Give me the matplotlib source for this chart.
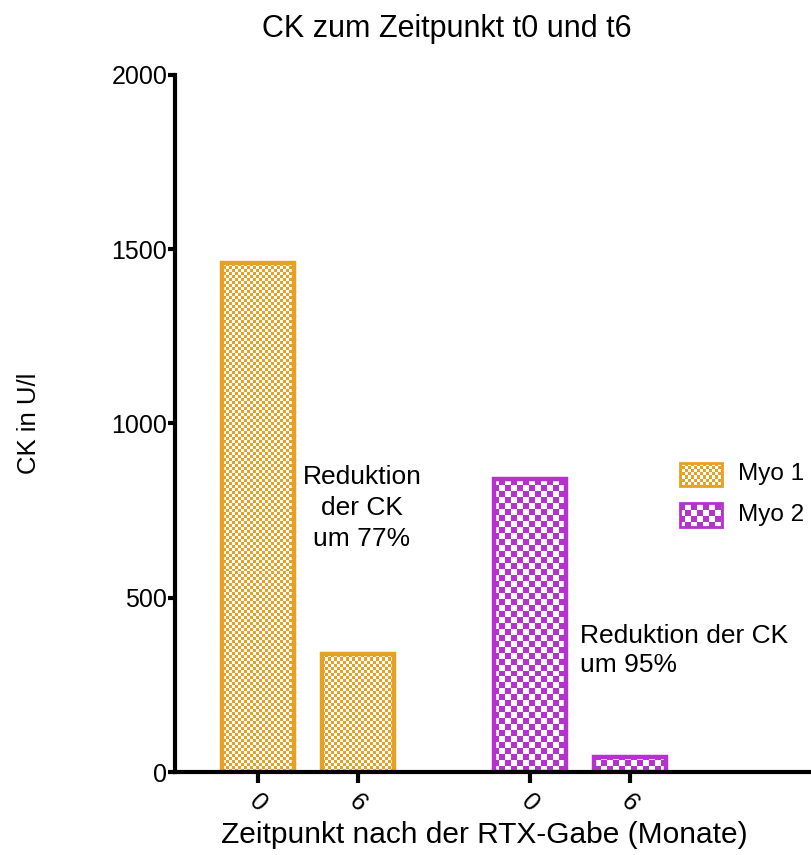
import numpy as np
import matplotlib
matplotlib.use("Agg")
import matplotlib.pyplot as plt
from matplotlib.patches import Rectangle

plt.rcParams['font.family'] = ['Liberation Sans', 'DejaVu Sans']

# Data
series = ["Myo 1", "Myo 2"]
months = ["0", "6"]
ck_myo1 = [1460, 339]
ck_myo2 = [842, 43]
reductions = ["Reduktion\nder CK\num 77%", "Reduktion der CK\num 95%"]

colors = ["#E6A024", "#B532CF"]
cell_px = [3, 6]          # checker cell size in pixels for each series
group_gap = 2.72
bar_w = 0.72

W, H, DPI = 811, 855, 100
fig = plt.figure(figsize=(W / DPI, H / DPI), dpi=DPI)
ax = fig.add_axes([175 / W, (H - 772) / H, (W - 175) / W, 697 / H])

ax_w_px, ax_h_px = W - 175, 697


def checker(color, cell):
    nx, ny = int(np.ceil(ax_w_px / cell)), int(np.ceil(ax_h_px / cell))
    yy, xx = np.mgrid[0:ny, 0:nx]
    mask = (xx + yy) % 2 == 0
    rgb = np.array(matplotlib.colors.to_rgb(color))
    img = np.ones((ny, nx, 3))
    img[mask] = rgb
    return img


def textured(patch, color, cell):
    im = ax.imshow(checker(color, cell), extent=(0, 1, 0, 1), transform=ax.transAxes,
                   interpolation="nearest", aspect="auto", zorder=1)
    im.set_clip_path(patch)


positions = []
for gi, (vals, col, cell) in enumerate(zip([ck_myo1, ck_myo2], colors, cell_px)):
    xs = np.arange(len(vals)) + gi * group_gap
    positions.extend(xs)
    bars = ax.bar(xs, vals, width=bar_w, facecolor="none", edgecolor=col,
                  linewidth=3.2, zorder=2)
    for b in bars:
        textured(b, col, cell)

ax.set_xlim(-0.83, 5.53)
ax.set_ylim(0, 2000)
ax.set_yticks([0, 500, 1000, 1500, 2000])
ax.set_xticks(positions)
ax.set_xticklabels(months * 2, rotation=-45, ha="center", va="top")

for s in ["top", "right"]:
    ax.spines[s].set_visible(False)
for s in ["left", "bottom"]:
    ax.spines[s].set_linewidth(3)
ax.spines["bottom"].set_zorder(3)
ax.tick_params(axis="y", length=5, width=3, labelsize=18, pad=0.5)
ax.tick_params(axis="x", length=8, width=3, labelsize=18, pad=5)

ax.set_ylabel("CK in U/l", fontsize=18.5, labelpad=51)
ax.set_xlabel("Zeitpunkt nach der RTX-Gabe (Monate)", fontsize=21.5)
ax.xaxis.set_label_coords(0.487, -0.0905)
ax.xaxis.label.set_va("center")
fig.text(447 / W, 1 - 29 / H, "CK zum Zeitpunkt t0 und t6", fontsize=22,
         ha="center", va="center")

ax.text(1.04, 880, reductions[0], fontsize=19, ha="center", va="top",
        linespacing=1.37, zorder=4)
ax.text(3.22, 425, reductions[1], fontsize=19, ha="left", va="top",
        linespacing=1.25, zorder=4)

# Legend with textured swatches
for i, (name, col, cell) in enumerate(zip(series, colors, cell_px)):
    y0 = 0.410 - i * 0.0585
    r = Rectangle((0.794, y0), 0.066, 0.034, transform=ax.transAxes,
                  facecolor="none", edgecolor=col, linewidth=2, zorder=2)
    ax.add_patch(r)
    textured(r, col, cell)
    ax.text(0.885, y0 + 0.017, name, transform=ax.transAxes, fontsize=17.5,
            ha="left", va="center")

fig.savefig("out.png", dpi=DPI)
